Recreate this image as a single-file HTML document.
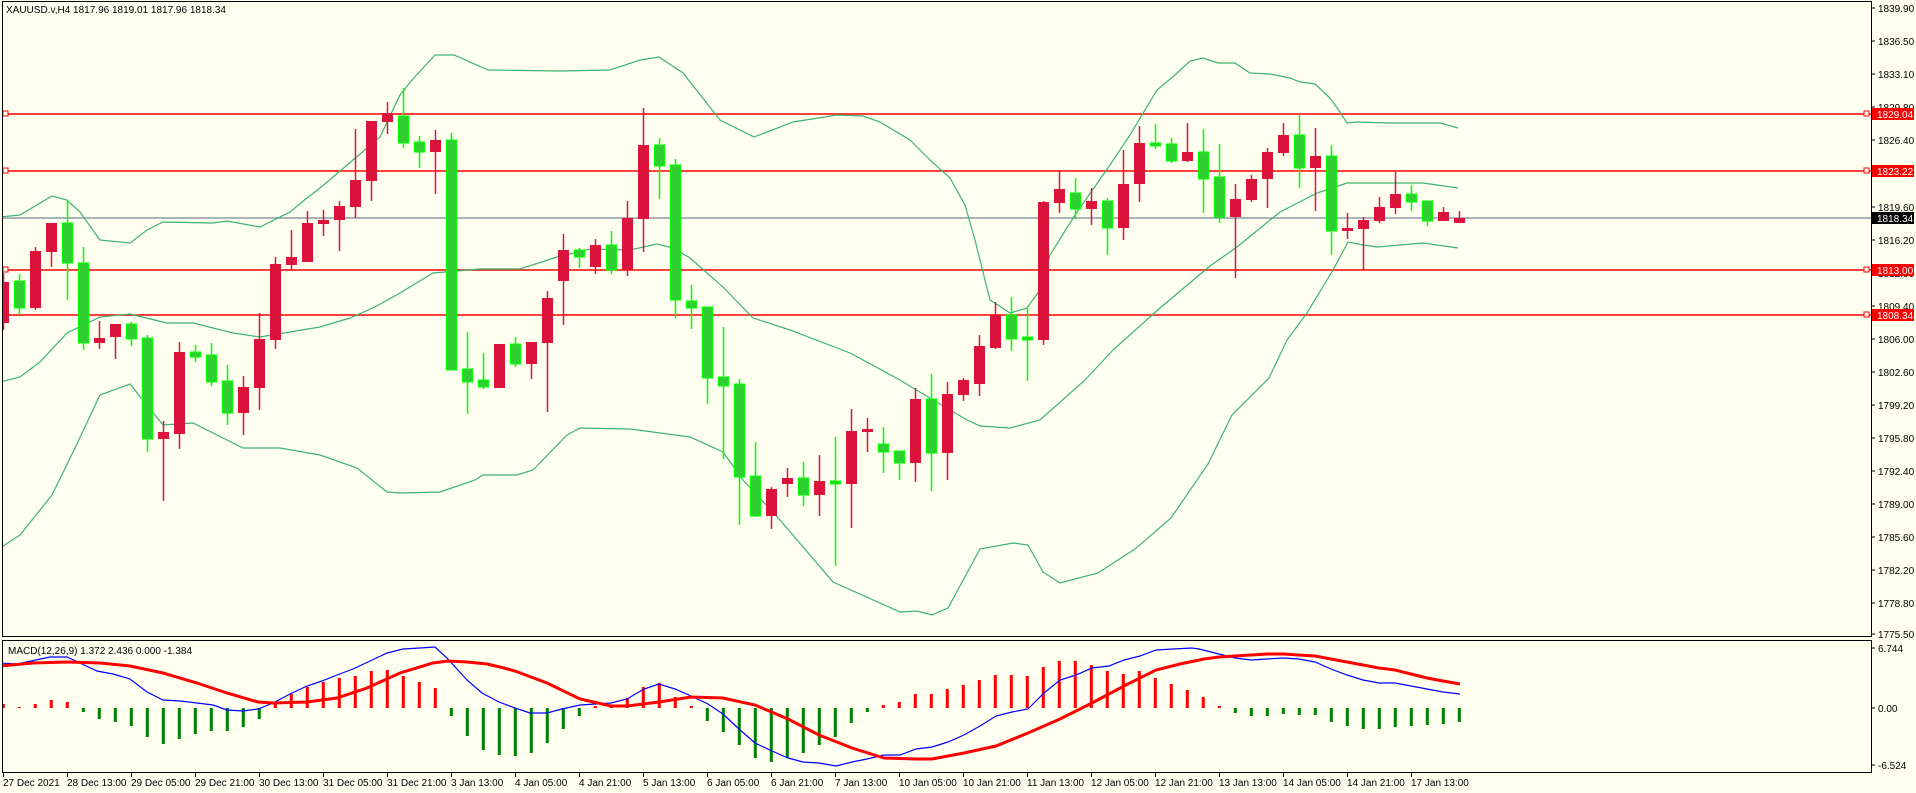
<!DOCTYPE html>
<html><head><meta charset="utf-8"><style>
html,body{margin:0;padding:0;background:#FFFFF0;}
svg{display:block;font-family:"Liberation Sans",Tahoma,sans-serif;font-size:10px;}
</style></head><body>
<svg width="1916" height="793" viewBox="0 0 1916 793" xmlns="http://www.w3.org/2000/svg">
<rect width="1916" height="793" fill="#FFFFF0"/>
<defs><clipPath id="mc"><rect x="3" y="2" width="1868" height="634"/></clipPath>
<clipPath id="dc"><rect x="3" y="641" width="1868" height="131"/></clipPath></defs>

<g clip-path="url(#mc)">
<g stroke="#FF0000" stroke-width="1.5" fill="none">
<line x1="3" x2="1871" y1="114" y2="114"/>
<line x1="3" x2="1871" y1="171" y2="171"/>
<line x1="3" x2="1871" y1="270" y2="270"/>
<line x1="3" x2="1871" y1="315" y2="315"/>
</g>
<line x1="3" x2="1871" y1="218" y2="218" stroke="#778899" stroke-width="1.3"/>
<g fill="#FFFFF0" stroke="#FF0000" stroke-width="1">
<rect x="3" y="111" width="5" height="5"/><rect x="3" y="168" width="5" height="5"/><rect x="3" y="267" width="5" height="5"/><rect x="3" y="312" width="5" height="5"/>
<rect x="1864" y="111" width="5" height="5"/><rect x="1864" y="168" width="5" height="5"/><rect x="1864" y="267" width="5" height="5"/><rect x="1864" y="312" width="5" height="5"/>
</g>
<g stroke="#3CB371" stroke-width="1.2" fill="none">
<polyline points="0,217 20,215 52,196 67,200 80,212 100,240 130,243 147,230 163,222 213,223 227,221 260,227 290,212 307,198 320,188 353,160 380,137 400,95 412,80 435,55 454,55 488,70 561,71 610,70 640,60 659,57 683,73 720,120 754,137 793,122 837,115 863,116 880,122 910,140 930,160 950,178 965,205 975,240 990,300 1010,313 1027,308 1040,290 1050,255 1075,215 1110,165 1130,135 1157,90 1175,75 1190,61 1203,58 1218,63 1235,63 1250,73 1270,74 1290,78 1300,82 1315,84 1330,98 1340,112 1347,123 1357,122 1390,123 1440,123 1458,128"/>
<polyline points="0,382 20,377 40,362 67,333 100,317 130,314 167,323 193,323 233,333 260,337 290,332 320,327 350,318 375,307 400,293 433,273 480,269 520,269 557,257 590,249 630,250 657,244 673,248 690,258 723,287 753,318 790,330 850,353 900,380 913,388 967,420 980,426 1010,428 1040,420 1085,380 1113,350 1160,308 1210,266 1237,247 1280,212 1317,193 1347,183 1423,183 1458,188"/>
<polyline points="0,548 20,535 52,495 75,448 100,395 130,384 163,425 193,423 227,440 243,448 280,448 320,455 357,468 387,492 400,493 440,492 475,480 483,475 517,475 533,470 567,435 580,428 630,429 690,437 723,452 743,480 780,520 833,582 900,612 917,611 932,615 948,608 980,549 1013,543 1028,545 1043,572 1060,583 1098,573 1135,549 1171,518 1208,464 1232,415 1269,378 1287,340 1307,313 1333,270 1348,242 1363,245 1377,247 1423,243 1458,248"/>
</g>
<path stroke="#DC143C" stroke-width="1.5" fill="none" d="M3.5,273V330M35.5,247V310M51.5,223V267M99.5,321V349M115.5,324V359M163.5,421V501M179.5,342V449M243.5,376V435M259.5,313V410M275.5,257V349M291.5,230V270M307.5,211V262M323.5,210V236M339.5,201V251M355.5,129V218M371.5,121V201M387.5,102V134M435.5,130V194M499.5,344V388M531.5,342V379M547.5,291V412M563.5,234V325M595.5,239V274M627.5,201V276M643.5,108V252M771.5,487V529M787.5,468V497M819.5,455V516M851.5,409V528M867.5,418V452M915.5,388V482M947.5,382V480M963.5,378V401M979.5,335V396M995.5,302V349M1043.5,201V345M1059.5,171V213M1091.5,188V225M1123.5,150V240M1139.5,126V202M1187.5,123V162M1235.5,184V278M1251.5,175V202M1267.5,148V208M1283.5,123V156M1315.5,128V211M1347.5,213V239M1363.5,217V270M1379.5,197V223M1395.5,172V214M1443.5,207V221M1459.5,211V223"/>
<path stroke="#00FF00" stroke-width="1.5" fill="none" d="M19.5,274V315M67.5,200V300M83.5,247V350M131.5,322V346M147.5,335V452M195.5,345V362M211.5,343V386M227.5,365V425M403.5,88V148M419.5,136V168M451.5,133V370M467.5,332V414M483.5,353V389M515.5,337V367M579.5,248V268M611.5,231V274M659.5,138V199M675.5,159V318M691.5,285V329M707.5,307V404M723.5,327V459M739.5,379V525M755.5,442V517M803.5,462V506M835.5,437V566M883.5,427V473M899.5,451V480M931.5,374V491M1011.5,297V351M1027.5,308V381M1075.5,178V219M1107.5,198V255M1155.5,124V149M1171.5,138V163M1203.5,129V213M1219.5,144V223M1299.5,115V188M1331.5,145V255M1411.5,185V211M1427.5,201V226"/>
<g fill="#DC143C">
<rect x="-2" y="282" width="11" height="41"/><rect x="30" y="251" width="11" height="57"/><rect x="46" y="223" width="11" height="29"/><rect x="94" y="338" width="11" height="5"/><rect x="110" y="324" width="11" height="13"/><rect x="158" y="432" width="11" height="7"/><rect x="174" y="352" width="11" height="82"/><rect x="238" y="387" width="11" height="26"/><rect x="254" y="339" width="11" height="49"/><rect x="270" y="264" width="11" height="76"/><rect x="286" y="257" width="11" height="8"/><rect x="302" y="223" width="11" height="39"/><rect x="318" y="220" width="11" height="4"/><rect x="334" y="206" width="11" height="14"/><rect x="350" y="180" width="11" height="27"/><rect x="366" y="121" width="11" height="60"/><rect x="382" y="113" width="11" height="9"/><rect x="430" y="140" width="11" height="12"/><rect x="494" y="344" width="11" height="44"/><rect x="526" y="342" width="11" height="22"/><rect x="542" y="298" width="11" height="45"/><rect x="558" y="250" width="11" height="31"/><rect x="590" y="245" width="11" height="22"/><rect x="622" y="218" width="11" height="52"/><rect x="638" y="145" width="11" height="74"/><rect x="766" y="489" width="11" height="27"/><rect x="782" y="478" width="11" height="6"/><rect x="814" y="481" width="11" height="14"/><rect x="846" y="431" width="11" height="53"/><rect x="862" y="429" width="11" height="3"/><rect x="910" y="399" width="11" height="64"/><rect x="942" y="394" width="11" height="59"/><rect x="958" y="380" width="11" height="15"/><rect x="974" y="346" width="11" height="38"/><rect x="990" y="315" width="11" height="33"/><rect x="1038" y="202" width="11" height="138"/><rect x="1054" y="189" width="11" height="14"/><rect x="1086" y="201" width="11" height="8"/><rect x="1118" y="184" width="11" height="44"/><rect x="1134" y="143" width="11" height="41"/><rect x="1182" y="152" width="11" height="9"/><rect x="1230" y="199" width="11" height="18"/><rect x="1246" y="179" width="11" height="21"/><rect x="1262" y="152" width="11" height="27"/><rect x="1278" y="135" width="11" height="18"/><rect x="1310" y="156" width="11" height="12"/><rect x="1342" y="228" width="11" height="3"/><rect x="1358" y="220" width="11" height="9"/><rect x="1374" y="207" width="11" height="14"/><rect x="1390" y="194" width="11" height="14"/><rect x="1438" y="212" width="11" height="9"/><rect x="1454" y="218" width="11" height="5"/>
</g>
<g fill="#32CD32" stroke="#00FF00" stroke-width="1">
<rect x="14.5" y="281" width="10" height="27"/><rect x="62.5" y="223" width="10" height="40"/><rect x="78.5" y="263" width="10" height="80"/><rect x="126.5" y="324" width="10" height="15"/><rect x="142.5" y="338" width="10" height="101"/><rect x="190.5" y="352" width="10" height="5"/><rect x="206.5" y="355" width="10" height="27"/><rect x="222.5" y="381" width="10" height="32"/><rect x="398.5" y="116" width="10" height="27"/><rect x="414.5" y="142" width="10" height="10"/><rect x="446.5" y="140" width="10" height="230"/><rect x="462.5" y="369" width="10" height="13"/><rect x="478.5" y="380" width="10" height="7"/><rect x="510.5" y="344" width="10" height="20"/><rect x="574.5" y="250" width="10" height="7"/><rect x="606.5" y="245" width="10" height="25"/><rect x="654.5" y="145" width="10" height="21"/><rect x="670.5" y="165" width="10" height="135"/><rect x="686.5" y="301" width="10" height="7"/><rect x="702.5" y="307" width="10" height="71"/><rect x="718.5" y="377" width="10" height="9"/><rect x="734.5" y="384" width="10" height="93"/><rect x="750.5" y="476" width="10" height="40"/><rect x="798.5" y="478" width="10" height="17"/><rect x="830.5" y="481" width="10" height="3"/><rect x="878.5" y="444" width="10" height="8"/><rect x="894.5" y="451" width="10" height="12"/><rect x="926.5" y="399" width="10" height="54"/><rect x="1006.5" y="315" width="10" height="24"/><rect x="1022.5" y="337" width="10" height="3"/><rect x="1070.5" y="193" width="10" height="16"/><rect x="1102.5" y="201" width="10" height="27"/><rect x="1150.5" y="143" width="10" height="3"/><rect x="1166.5" y="144" width="10" height="17"/><rect x="1198.5" y="152" width="10" height="27"/><rect x="1214.5" y="177" width="10" height="40"/><rect x="1294.5" y="135" width="10" height="33"/><rect x="1326.5" y="156" width="10" height="75"/><rect x="1406.5" y="194" width="10" height="8"/><rect x="1422.5" y="201" width="10" height="20"/>
</g>
</g>
<text x="6" y="13" fill="#000">XAUUSD.v,H4  1817.96 1819.01 1817.96 1818.34</text>

<g clip-path="url(#dc)">
<path stroke="#FF0000" stroke-width="3" fill="none" d="M3.3,708V704M19.3,708V707M35.3,708V704M51.3,708V700M67.3,708V702M275.3,708V702M291.3,708V694M307.3,708V687M323.3,708V682M339.3,708V678M355.3,708V676M371.3,708V671M387.3,708V670M403.3,708V676M419.3,708V682M435.3,708V688M595.3,708V706M611.3,708V705M627.3,708V698M643.3,708V687M659.3,708V683M675.3,708V697M691.3,708V706M883.3,708V705M899.3,708V702M915.3,708V694M931.3,708V694M947.3,708V689M963.3,708V685M979.3,708V680M995.3,708V675M1011.3,708V675M1027.3,708V676M1043.3,708V667M1059.3,708V661M1075.3,708V661M1091.3,708V665M1107.3,708V671M1123.3,708V674M1139.3,708V671M1155.3,708V678M1171.3,708V684M1187.3,708V690M1203.3,708V697M1219.3,708V706"/>
<path stroke="#008000" stroke-width="3" fill="none" d="M83.3,708V712M99.3,708V719M115.3,708V722M131.3,708V726M147.3,708V737M163.3,708V744M179.3,708V739M195.3,708V734M211.3,708V731M227.3,708V731M243.3,708V727M259.3,708V719M451.3,708V716M467.3,708V736M483.3,708V750M499.3,708V755M515.3,708V756M531.3,708V753M547.3,708V743M563.3,708V729M579.3,708V716M707.3,708V721M723.3,708V732M739.3,708V745M755.3,708V758M771.3,708V762M787.3,708V758M803.3,708V753M819.3,708V745M835.3,708V737M851.3,708V723M867.3,708V712M1235.3,708V713M1251.3,708V716M1267.3,708V716M1283.3,708V714M1299.3,708V715M1315.3,708V715M1331.3,708V722M1347.3,708V726M1363.3,708V729M1379.3,708V729M1395.3,708V727M1411.3,708V726M1427.3,708V725M1443.3,708V724M1459.3,708V722"/>
<polyline fill="none" stroke="#0000FF" stroke-width="1.2" points="0,663 17,664 50,657 67,657 80,663 97,671 113,674 130,679 147,692 163,700 180,701 197,703 213,705 227,710 243,711 258,709 273,703 290,694 307,686 322,681 337,675 353,669 370,661 387,653 403,649 420,648 435,647 447,658 467,680 482,693 499,702 515,708 530,713 547,713 562,709 580,705 611,703 627,699 644,689 659,684 675,689 691,696 708,704 723,714 739,729 755,743 772,751 788,758 803,762 819,763 836,766 852,762 867,759 884,755 900,755 916,749 932,747 948,742 964,735 980,726 996,716 1012,712 1028,709 1044,693 1060,680 1076,675 1092,668 1109,666 1124,660 1140,656 1156,650 1173,649 1192,648 1199,649 1219,654 1235,658 1251,660 1267,659 1283,658 1299,659 1315,662 1331,669 1347,675 1363,680 1379,683 1395,683 1411,686 1427,689 1443,692 1460,694"/>
<polyline fill="none" stroke="#FF0000" stroke-width="3" points="0,666 33,663 67,662 100,663 130,666 163,673 197,683 227,693 258,702 273,703 307,702 337,698 367,688 400,673 433,663 448,661 467,662 487,664 500,667 515,671 547,683 580,699 611,706 627,706 659,702 691,697 723,698 755,705 788,719 819,735 852,748 884,758 916,759 932,759 964,753 996,746 1028,733 1060,719 1092,703 1124,686 1156,670 1180,664 1204,659 1219,657 1235,656 1251,655 1267,654 1283,654 1299,655 1315,656 1331,659 1347,662 1363,665 1379,668 1395,670 1411,674 1427,678 1443,681 1460,684"/>
</g>
<text x="8" y="654" fill="#000">MACD(12,26,9) 1.372 2.436 0.000 -1.384</text>

<g stroke="#000" fill="none" stroke-width="1">
<rect x="2.5" y="1.5" width="1869" height="635"/>
<rect x="2.5" y="640.5" width="1869" height="132"/>
</g>

<g stroke="#000" stroke-width="1">
<path d="M1871,8h4M1871,41h4M1871,74h4M1871,107h4M1871,140h4M1871,173h4M1871,207h4M1871,240h4M1871,273h4M1871,306h4M1871,339h4M1871,372h4M1871,405h4M1871,438h4M1871,471h4M1871,504h4M1871,537h4M1871,570h4M1871,603h4M1871,634h4M1871,648h4M1871,708h4M1871,765h4"/>
</g>
<g fill="#000">
<text x="1878" y="12">1839.90</text><text x="1878" y="45">1836.50</text><text x="1878" y="78">1833.10</text><text x="1878" y="111">1829.80</text><text x="1878" y="144">1826.40</text><text x="1878" y="177">1823.00</text><text x="1878" y="211">1819.60</text><text x="1878" y="244">1816.20</text><text x="1878" y="277">1812.80</text><text x="1878" y="310">1809.40</text><text x="1878" y="343">1806.00</text><text x="1878" y="376">1802.60</text><text x="1878" y="409">1799.20</text><text x="1878" y="442">1795.80</text><text x="1878" y="475">1792.40</text><text x="1878" y="508">1789.00</text><text x="1878" y="541">1785.60</text><text x="1878" y="574">1782.20</text><text x="1878" y="607">1778.80</text><text x="1878" y="638">1775.50</text>
<text x="1878" y="652">6.744</text><text x="1878" y="712">0.00</text><text x="1878" y="769">-6.524</text>
</g>
<g>
<rect x="1872" y="108" width="42" height="12" fill="#FF0000"/><text x="1877" y="118" fill="#fff">1829.04</text>
<rect x="1872" y="165" width="42" height="12" fill="#FF0000"/><text x="1877" y="175" fill="#fff">1823.22</text>
<rect x="1872" y="212" width="42" height="12" fill="#000"/><text x="1877" y="222" fill="#fff">1818.34</text>
<rect x="1872" y="264" width="42" height="12" fill="#FF0000"/><text x="1877" y="274" fill="#fff">1813.00</text>
<rect x="1872" y="309" width="42" height="12" fill="#FF0000"/><text x="1877" y="319" fill="#fff">1808.34</text>
</g>

<path stroke="#000" stroke-width="1" d="M3.5,773v4M67.5,773v4M131.5,773v4M195.5,773v4M259.5,773v4M323.5,773v4M387.5,773v4M451.5,773v4M515.5,773v4M579.5,773v4M643.5,773v4M707.5,773v4M771.5,773v4M835.5,773v4M899.5,773v4M963.5,773v4M1027.5,773v4M1091.5,773v4M1155.5,773v4M1219.5,773v4M1283.5,773v4M1347.5,773v4M1411.5,773v4"/>
<g fill="#000">
<text x="3" y="786">27 Dec 2021</text><text x="67" y="786">28 Dec 13:00</text><text x="131" y="786">29 Dec 05:00</text><text x="195" y="786">29 Dec 21:00</text><text x="259" y="786">30 Dec 13:00</text><text x="323" y="786">31 Dec 05:00</text><text x="387" y="786">31 Dec 21:00</text><text x="451" y="786">3 Jan 13:00</text><text x="515" y="786">4 Jan 05:00</text><text x="579" y="786">4 Jan 21:00</text><text x="643" y="786">5 Jan 13:00</text><text x="707" y="786">6 Jan 05:00</text><text x="771" y="786">6 Jan 21:00</text><text x="835" y="786">7 Jan 13:00</text><text x="899" y="786">10 Jan 05:00</text><text x="963" y="786">10 Jan 21:00</text><text x="1027" y="786">11 Jan 13:00</text><text x="1091" y="786">12 Jan 05:00</text><text x="1155" y="786">12 Jan 21:00</text><text x="1219" y="786">13 Jan 13:00</text><text x="1283" y="786">14 Jan 05:00</text><text x="1347" y="786">14 Jan 21:00</text><text x="1411" y="786">17 Jan 13:00</text>
</g>
</svg>
</body></html>
